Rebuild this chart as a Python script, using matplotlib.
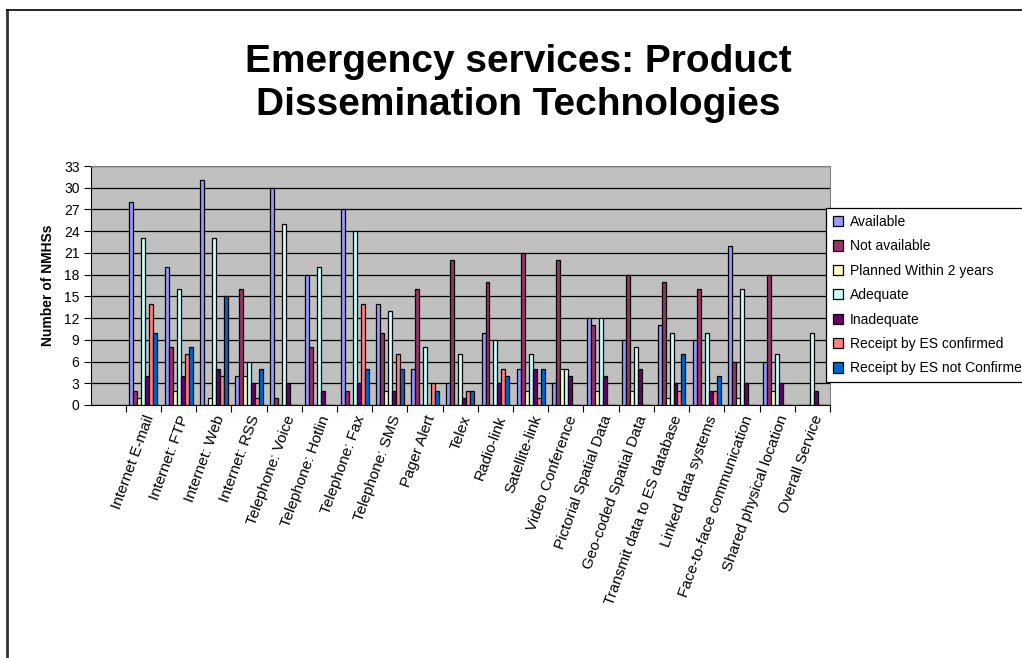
"""
dissemination
=============

bar chart of product dissemination technologies used with emergency services
"""
import numpy as np
import matplotlib
matplotlib.use('Agg')
import matplotlib.pyplot as plt
from matplotlib.lines import Line2D

plt.rcParams['font.family'] = ['Liberation Sans', 'DejaVu Sans']

technologies = ['Internet E-mail', 'Internet: FTP', 'Internet: Web', 'Internet: RSS',
                'Telephone: Voice', 'Telephone: Hotlin', 'Telephone: Fax', 'Telephone: SMS',
                'Pager Alert', 'Telex', 'Radio-link', 'Satellite-link', 'Video Conference',
                'Pictorial Spatial Data', 'Geo-coded Spatial Data',
                'Transmit data to ES database', 'Linked data systems',
                'Face-to-face communication', 'Shared physical location', 'Overall Service']

available = [28, 19, 31, 4, 30, 18, 27, 14, 5, 3, 10, 5, 3, 12, 9, 11, 9, 22, 6, 0]
not_available = [2, 8, 0, 16, 1, 8, 2, 10, 16, 20, 17, 21, 20, 11, 18, 17, 16, 6, 18, 0]
planned = [1, 2, 1, 4, 0, 0, 0, 2, 0, 0, 0, 2, 5, 2, 2, 1, 0, 1, 2, 0]
adequate = [23, 16, 23, 6, 25, 19, 24, 13, 8, 7, 9, 7, 5, 12, 8, 10, 10, 16, 7, 10]
inadequate = [4, 4, 5, 3, 3, 2, 3, 2, 0, 1, 3, 5, 4, 4, 5, 3, 2, 3, 3, 2]
es_confirmed = [14, 7, 4, 1, 0, 0, 14, 7, 3, 2, 5, 1, 0, 0, 0, 2, 2, 0, 0, 0]
es_not_confirmed = [10, 8, 15, 5, 0, 0, 5, 5, 2, 2, 4, 5, 0, 0, 0, 7, 4, 0, 0, 0]

series = [('Available', available, '#9999FF'),
          ('Not available', not_available, '#993366'),
          ('Planned Within 2 years', planned, '#FFFFCC'),
          ('Adequate', adequate, '#CCFFFF'),
          ('Inadequate', inadequate, '#660066'),
          ('Receipt by ES confirmed', es_confirmed, '#FF8080'),
          ('Receipt by ES not Confirmed', es_not_confirmed, '#0066CC')]

fig = plt.figure(figsize=(10.22, 6.58), dpi=100)
ax = fig.add_axes([0.0886, 0.3845, 0.7235, 0.3632])
ax.set_facecolor('#C0C0C0')

# first slot on the category axis is left blank
x = np.arange(len(technologies)) + 1
width = 0.113
for i, (name, values, color) in enumerate(series):
    offset = (i - 3) * width
    ax.bar(x + offset, values, width, color=color, edgecolor='black',
           linewidth=0.9, label=name, zorder=3)

ax.set_xlim(-0.5, len(technologies) + 0.5)
ax.set_ylim(0, 33)
ax.set_yticks(range(0, 34, 3))
ax.yaxis.grid(True, color='black', linewidth=0.9, zorder=1)
ax.tick_params(axis='y', direction='out', length=5, width=0.8, labelsize=10, pad=3)

# category boundaries carry the tick marks, labels sit in between
ax.set_xticks(np.arange(len(technologies) + 1) + 0.5)
ax.set_xticklabels([])
ax.tick_params(axis='x', which='major', direction='out', length=5, width=0.8)
ax.set_xticks(x, minor=True)
ax.set_xticklabels(technologies, minor=True, rotation=70, ha='right',
                   rotation_mode='anchor', fontsize=11)
ax.tick_params(axis='x', which='minor', length=0, pad=6)

for side in ['top', 'right']:
    ax.spines[side].set_color('#808080')
for side in ['left', 'bottom']:
    ax.spines[side].set_color('black')

ax.set_ylabel('Number of NMHSs', fontsize=10, fontweight='bold', labelpad=6)

fig.text(0.507, 0.873, 'Emergency services: Product\nDissemination Technologies',
         ha='center', va='center', fontsize=28, fontweight='bold', linespacing=1.22)

leg = fig.legend(loc='upper left', bbox_to_anchor=(0.808, 0.684), fontsize=10,
                 frameon=True, fancybox=False, edgecolor='black', framealpha=1,
                 handlelength=0.75, handleheight=0.75, handletextpad=0.5,
                 labelspacing=0.75, borderpad=0.5, borderaxespad=0)
leg.get_frame().set_linewidth(0.9)

# outer border of the chart area
fig.add_artist(Line2D([0.0068, 0.0068], [0.0, 0.9845], color='#333333', linewidth=2))
fig.add_artist(Line2D([0.0068, 1.0], [0.9845, 0.9845], color='black', linewidth=1.2))

fig.savefig('out.png', dpi=100)
